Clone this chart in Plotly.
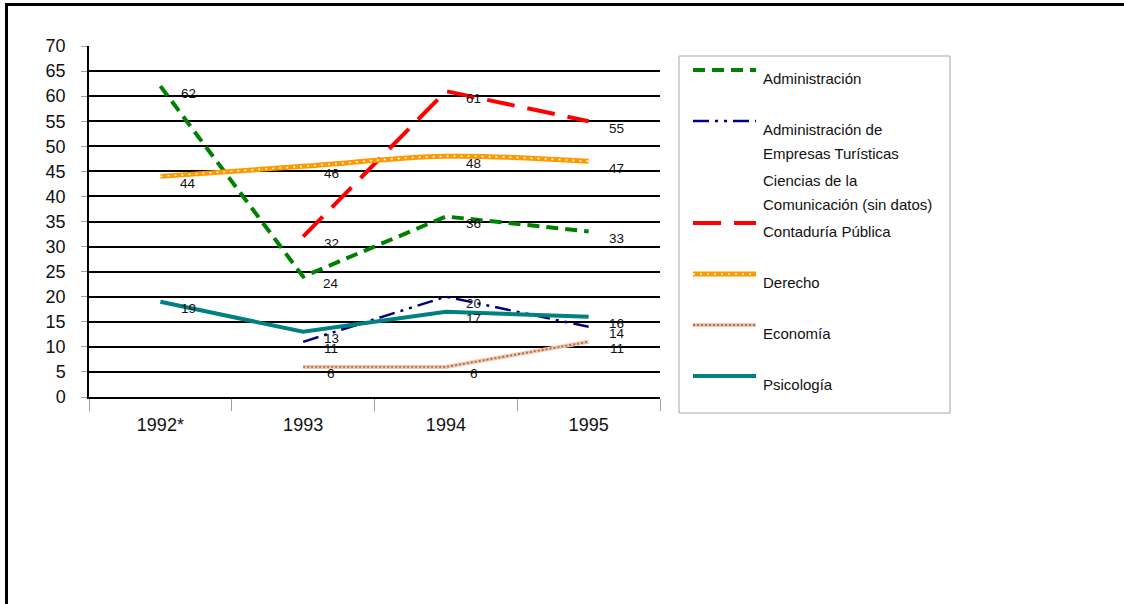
import plotly.graph_objects as go

# ---------------- data ----------------
years = ["1992*", "1993", "1994", "1995"]
administracion = [62, 24, 36, 33]
adm_emp_turisticas = [None, 11, 20, 14]
ciencias_comunicacion = [None, None, None, None]  # sin datos
contaduria = [None, 32, 61, 55]
derecho = [44, 46, 48, 47]
economia = [None, 6, 6, 11]
psicologia = [19, 13, 17, 16]

y_ticks = list(range(0, 75, 5))

FONT = "Liberation Sans, Arial, sans-serif"

# plot-area pixel geometry (used to place decorations in paper coords)
L, R, T, B = 89, 660, 46, 397
W, H = 1124, 604


def px(x):
    return (x - L) / (R - L)


def py(y):
    return (B - y) / (B - T)


fig = go.Figure()

GREEN = "#008000"
NAVY = "#000080"
RED = "#FF0000"
ORANGE = "#FF9900"
BROWN = "#B8673E"
BROWN_LIGHT = "#EEC7B2"
TEAL = "#008080"

styles = {
    "adm": dict(color=GREEN, width=4, dash="12px,7px"),
    "aet": dict(color=NAVY, width=2.5, dash="16px,6px,3px,6px,3px,6px"),
    "cont": dict(color=RED, width=4, dash="28px,13px"),
    "der": dict(color=ORANGE, width=5),
    "der_dots": dict(color="white", width=1.5, dash="2px,5px"),
    "eco": dict(color=BROWN_LIGHT, width=4),
    "eco_dots": dict(color=BROWN, width=1.8, dash="2px,2px"),
    "psi": dict(color=TEAL, width=4),
}

fig.add_trace(go.Scatter(x=years, y=administracion, mode="lines", line=styles["adm"],
                         name="Administración"))
fig.add_trace(go.Scatter(x=years, y=adm_emp_turisticas, mode="lines", line=styles["aet"],
                         name="Administración de Empresas Turísticas"))
fig.add_trace(go.Scatter(x=years, y=contaduria, mode="lines", line=styles["cont"],
                         name="Contaduría Pública"))
fig.add_trace(go.Scatter(x=years, y=derecho, mode="lines",
                         line=dict(**styles["der"], shape="spline"), name="Derecho"))
fig.add_trace(go.Scatter(x=years, y=derecho, mode="lines",
                         line=dict(**styles["der_dots"], shape="spline"), name="Derecho",
                         hoverinfo="skip"))
fig.add_trace(go.Scatter(x=years, y=economia, mode="lines", line=styles["eco"],
                         name="Economía"))
fig.add_trace(go.Scatter(x=years, y=economia, mode="lines", line=styles["eco_dots"],
                         name="Economía", hoverinfo="skip"))
fig.add_trace(go.Scatter(x=years, y=psicologia, mode="lines", line=styles["psi"],
                         name="Psicología"))

# data labels (x given as category index so numeric-looking names are not misread)
annotations = []
for series in [administracion, adm_emp_turisticas, contaduria, derecho, economia, psicologia]:
    for i, yv in enumerate(series):
        if yv is None:
            continue
        annotations.append(dict(x=i, y=yv, xref="x", yref="y", text=str(yv),
                                showarrow=False, xshift=28, yshift=-7,
                                font=dict(family=FONT, size=13.5, color="#111111")))

# legend (drawn manually to mimic the original layout)
shapes = []
legend_items = [
    (70, [("Administración", 78)], [styles["adm"]]),
    (121, [("Administración de", 129), ("Empresas Turísticas", 153)], [styles["aet"]]),
    (None, [("Ciencias de la", 180), ("Comunicación (sin datos)", 204)], []),
    (223, [("Contaduría Pública", 231)], [styles["cont"]]),
    (274, [("Derecho", 282)], [styles["der"], styles["der_dots"]]),
    (325, [("Economía", 333)], [styles["eco"], styles["eco_dots"]]),
    (376, [("Psicología", 384)], [styles["psi"]]),
]
for sy, texts, lines in legend_items:
    for ln in lines:
        shapes.append(dict(type="line", xref="paper", yref="paper",
                           x0=px(693), x1=px(756), y0=py(sy), y1=py(sy),
                           line=ln, layer="above"))
    for txt, ty in texts:
        annotations.append(dict(x=px(761), y=py(ty), xref="paper", yref="paper",
                                text=txt, showarrow=False, xanchor="left", yanchor="middle",
                                font=dict(family=FONT, size=15, color="#111111")))

# legend box
shapes.append(dict(type="rect", xref="paper", yref="paper",
                   x0=px(679), x1=px(950), y0=py(413), y1=py(56),
                   line=dict(color="#A6A6A6", width=1), layer="below"))
# outer frame lines (top and left)
shapes.append(dict(type="line", xref="paper", yref="paper",
                   x0=px(5), x1=px(1124), y0=py(4.5), y1=py(4.5),
                   line=dict(color="black", width=3)))
shapes.append(dict(type="line", xref="paper", yref="paper",
                   x0=px(6.5), x1=px(6.5), y0=py(3), y1=py(604),
                   line=dict(color="black", width=3)))

fig.update_layout(
    width=W, height=H,
    margin=dict(l=L, r=W - R, t=T, b=H - B),
    paper_bgcolor="white", plot_bgcolor="white",
    showlegend=False,
    font=dict(family=FONT, color="#111111"),
    annotations=annotations,
    shapes=shapes,
    xaxis=dict(type="category", range=[-0.5, 3.5], showgrid=False,
               showline=True, linecolor="black", linewidth=2,
               ticks="outside", tickson="boundaries", ticklen=12,
               tickcolor="#A0A0A0", tickwidth=1,
               tickfont=dict(family=FONT, size=18, color="#111111"),
               ticklabelstandoff=10),
    yaxis=dict(range=[0, 70], tickvals=y_ticks, showgrid=True,
               gridcolor="black", gridwidth=2, zeroline=False,
               showline=True, linecolor="black", linewidth=1.5,
               ticks="outside", ticklen=6, tickcolor="#A0A0A0", tickwidth=1,
               tickfont=dict(family=FONT, size=18, color="#111111"),
               ticklabelstandoff=12),
)

fig.write_html("out.html", config={"displayModeBar": False},
               post_script="document.body.style.margin='0';document.body.style.overflow='hidden';")
